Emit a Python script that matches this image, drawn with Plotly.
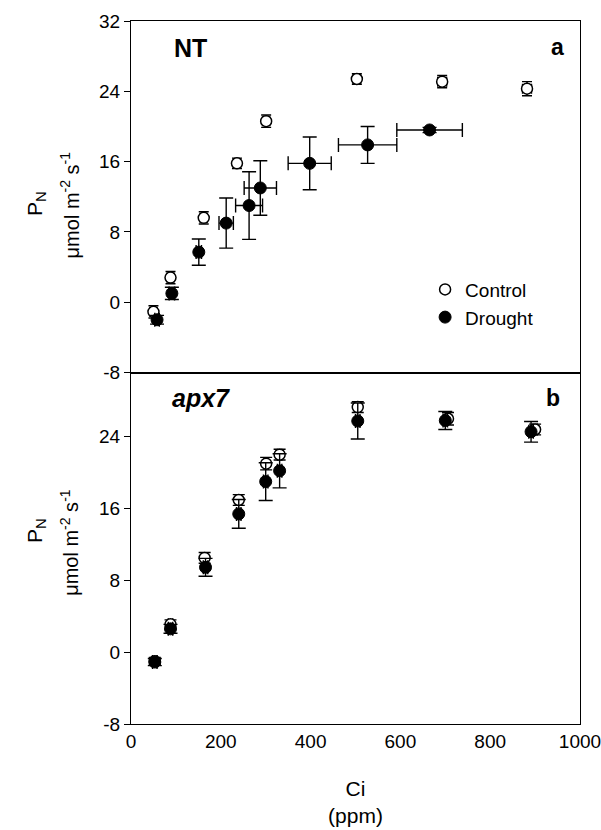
import plotly.graph_objects as go
from plotly.subplots import make_subplots

# Panel a: NT plants
nt_control_ci = [50, 88, 162, 236, 301, 503, 693, 882]
nt_control_ci_err = [8, 8, 8, 8, 8, 8, 10, 10]
nt_control_pn = [-1.1, 2.8, 9.6, 15.8, 20.6, 25.4, 25.1, 24.3]
nt_control_pn_err = [0.7, 0.7, 0.7, 0.6, 0.7, 0.6, 0.7, 0.8]

nt_drought_ci = [58, 91, 151, 212, 263, 288, 398, 527, 665]
nt_drought_ci_err = [5, 6, 6, 16, 30, 36, 48, 65, 73]
nt_drought_pn = [-2.0, 1.0, 5.7, 9.0, 11.0, 13.0, 15.8, 17.9, 19.6]
nt_drought_pn_err = [0.5, 0.7, 1.5, 2.85, 3.85, 3.1, 3.0, 2.1, 0.3]

# Panel b: apx7 plants
apx_control_ci = [53, 88, 164, 240, 301, 331, 505, 706, 900]
apx_control_ci_err = [5, 5, 5, 5, 5, 5, 5, 5, 5]
apx_control_pn = [-1.0, 3.1, 10.5, 16.95, 21.0, 22.0, 27.3, 26.0, 24.8]
apx_control_pn_err = [0.4, 0.5, 0.6, 0.6, 0.7, 0.6, 0.6, 0.7, 0.6]

apx_drought_ci = [53, 88, 166, 240, 300, 331, 505, 700, 891]
apx_drought_ci_err = [5, 5, 5, 5, 5, 5, 5, 5, 5]
apx_drought_pn = [-1.1, 2.6, 9.45, 15.4, 19.0, 20.2, 25.75, 25.8, 24.55]
apx_drought_pn_err = [0.4, 0.5, 1.0, 1.6, 2.1, 1.9, 2.0, 1.0, 1.15]

x_ticks = [0, 200, 400, 600, 800, 1000]
y_ticks_a = [-8, 0, 8, 16, 24, 32]
y_ticks_b = [-8, 0, 8, 16, 24]

FONT = "Liberation Sans, Arial, sans-serif"
INK = "black"

fig = make_subplots(rows=2, cols=1, shared_xaxes=True, vertical_spacing=0)


def err(vals, cap):
    return dict(type="data", array=vals, visible=True, color=INK,
                thickness=1.4, width=cap)


def add_series(ci, ci_err, pn, pn_err, row, filled, name, show, cap):
    marker = (dict(size=12, color=INK, line=dict(color=INK, width=1))
              if filled else
              dict(size=11, color="white", line=dict(color=INK, width=1.5)))
    fig.add_trace(go.Scatter(
        x=ci, y=pn, mode="markers", name=name, showlegend=show,
        legendgroup=name, marker=marker,
        error_x=err(ci_err, cap), error_y=err(pn_err, cap),
    ), row=row, col=1)


add_series(nt_control_ci, nt_control_ci_err, nt_control_pn, nt_control_pn_err,
           1, False, "Control", True, 5)
add_series(nt_drought_ci, nt_drought_ci_err, nt_drought_pn, nt_drought_pn_err,
           1, True, "Drought", True, 7)
add_series(apx_control_ci, apx_control_ci_err, apx_control_pn, apx_control_pn_err,
           2, False, "Control", False, 6)
add_series(apx_drought_ci, apx_drought_ci_err, apx_drought_pn, apx_drought_pn_err,
           2, True, "Drought", False, 7)

axis_common = dict(showline=True, linecolor=INK, linewidth=1.3, mirror=True,
                   showgrid=False, zeroline=False, automargin=False)

fig.update_xaxes(**axis_common, range=[0, 1000], ticks="", tickvals=x_ticks,
                 ticktext=[str(v) for v in x_ticks], ticklabeloverflow="allow",
                 tickfont=dict(family=FONT, size=19, color=INK))
fig.update_xaxes(showticklabels=False, row=1, col=1)
fig.update_xaxes(row=2, col=1,
                 title=dict(text="Ci<br>(ppm)", standoff=30,
                            font=dict(family=FONT, size=21, color=INK)))

fig.update_yaxes(**axis_common, ticks="outside", ticklen=6, tickwidth=1.3,
                 tickcolor=INK, tickfont=dict(family=FONT, size=19, color=INK))
fig.update_yaxes(range=[-8, 32], tickvals=y_ticks_a,
                 ticktext=[str(v) for v in y_ticks_a], row=1, col=1)
fig.update_yaxes(range=[-8, 31.15], tickvals=y_ticks_b,
                 ticktext=[str(v) for v in y_ticks_b], row=2, col=1)

fig.layout.yaxis.domain = [0.5, 1.0]
fig.layout.yaxis2.domain = [0.0, 0.5]

annotations = [
    dict(text="<b>NT</b>", x=0.133, y=0.962, size=25),
    dict(text="<b>a</b>", x=0.950, y=0.963, size=23),
    dict(text="<b><i>apx7</i></b>", x=0.155, y=0.464, size=25),
    dict(text="<b>b</b>", x=0.9405, y=0.464, size=23),
]
for a in annotations:
    fig.add_annotation(text=a["text"], x=a["x"], y=a["y"], xref="paper",
                       yref="paper", showarrow=False, xanchor="center",
                       yanchor="middle",
                       font=dict(family=FONT, size=a["size"], color=INK))

# Rotated two-line y-axis titles for each panel
for ymid_p, ymid_u in [(0.741, 0.739), (0.276, 0.259)]:
    fig.add_annotation(text="P<sub>N</sub>", x=-0.2116, y=ymid_p,
                       xref="paper", yref="paper", showarrow=False,
                       textangle=-90, xanchor="center", yanchor="middle",
                       font=dict(family=FONT, size=21, color=INK))
    fig.add_annotation(text="μmol m<sup>-2</sup> s<sup>-1</sup>", x=-0.136,
                       y=ymid_u, xref="paper", yref="paper", showarrow=False,
                       textangle=-90, xanchor="center", yanchor="middle",
                       font=dict(family=FONT, size=20, color=INK))

fig.update_layout(
    width=601, height=830,
    margin=dict(l=131, r=21, t=21, b=106, autoexpand=False),
    paper_bgcolor="white", plot_bgcolor="white",
    font=dict(family=FONT, color=INK),
    legend=dict(x=0.655, y=0.645, xanchor="left", yanchor="top",
                bgcolor="rgba(0,0,0,0)", tracegroupgap=0,
                font=dict(family=FONT, size=19, color=INK)),
)

fig.write_html("out.html")
